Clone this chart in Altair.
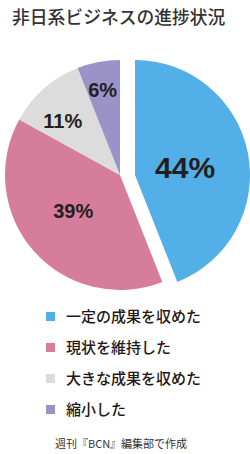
import math
import altair as alt
import pandas as pd

title_text = ["非日系ビジネスの進捗状況"]
source_text = ["週刊『BCN』編集部で作成"]
categories = ["一定の成果を収めた", "現状を維持した", "大きな成果を収めた", "縮小した"]
values = [44, 39, 11, 6]
labels = ["44%", "39%", "11%", "6%"]
colors = ["#53AFE7", "#D67D9B", "#DCDCDC", "#9B93C8"]

df = pd.DataFrame({"cat": categories, "value": values, "label": labels,
                   "order": list(range(len(categories)))})

CX, CY, R, EXPLODE = 120, 175, 115, 15
theta_scale = alt.Scale(domain=[0, 100], range=[0, 2 * math.pi])
color_enc = alt.Color(
    "cat:N",
    scale=alt.Scale(domain=categories, range=colors),
    legend=alt.Legend(
        title=None, orient="none", legendX=43, legendY=309, direction="vertical",
        symbolType="square", symbolSize=81, symbolStrokeWidth=0,
        labelFont="Noto Sans CJK JP", labelFontSize=15, labelColor="#231815",
        labelFontWeight=500, labelOffset=8, rowPadding=15, padding=0,
        labelLimit=300,
    ),
)

base = (
    alt.Chart(df)
    .transform_window(cum="sum(value)", sort=[{"field": "order"}], frame=[None, 0])
    .transform_calculate(start="datum.cum - datum.value",
                         mid="datum.cum - datum.value / 2")
)

rest = base.transform_filter("datum.order > 0").mark_arc(outerRadius=R).encode(
    theta=alt.Theta("start:Q", scale=theta_scale, stack=None),
    theta2="cum:Q",
    color=color_enc,
    x=alt.value(CX), y=alt.value(CY),
)
first = base.transform_filter("datum.order == 0").mark_arc(outerRadius=R).encode(
    theta=alt.Theta("start:Q", scale=theta_scale, stack=None),
    theta2="cum:Q",
    color=color_enc,
    x=alt.value(CX + EXPLODE), y=alt.value(CY),
)

label_style = [
    # (radius, fontSize, dx, dy, x-center)
    (51, 30, 0, 4, CX + EXPLODE),
    (61, 20, -1, -3, CX),
    (79, 20, -5, 6, CX),
    (87, 20, -1, 1, CX),
]
text_layers = []
for i, (rad, fs, dx, dy, cx) in enumerate(label_style):
    text_layers.append(
        base.transform_filter(f"datum.order == {i}")
        .mark_text(radius=rad, fontSize=fs, fontWeight="bold", font="Liberation Sans",
                   color="#231F20", dx=dx, dy=dy, align="center", baseline="middle")
        .encode(theta=alt.Theta("mid:Q", scale=theta_scale, stack=None),
                text="label:N", x=alt.value(cx), y=alt.value(CY))
    )

title = alt.Chart(pd.DataFrame({"t": title_text})).mark_text(
    x=12, y=19, align="left", baseline="middle", fontSize=17.8,
    font="Noto Sans CJK JP", fontWeight=500, color="#333333",
).encode(text="t:N")

source = alt.Chart(pd.DataFrame({"t": source_text})).mark_text(
    x=121, y=445, align="center", baseline="middle", fontSize=11,
    font="Noto Sans CJK JP", color="#333333",
).encode(text="t:N")

chart = alt.layer(rest, first, *text_layers, title, source).properties(
    width=250, height=454, padding=0, autosize="none", background="white"
).configure_view(stroke=None)

chart.save("out.html", embed_options={"renderer": "svg", "actions": False})
